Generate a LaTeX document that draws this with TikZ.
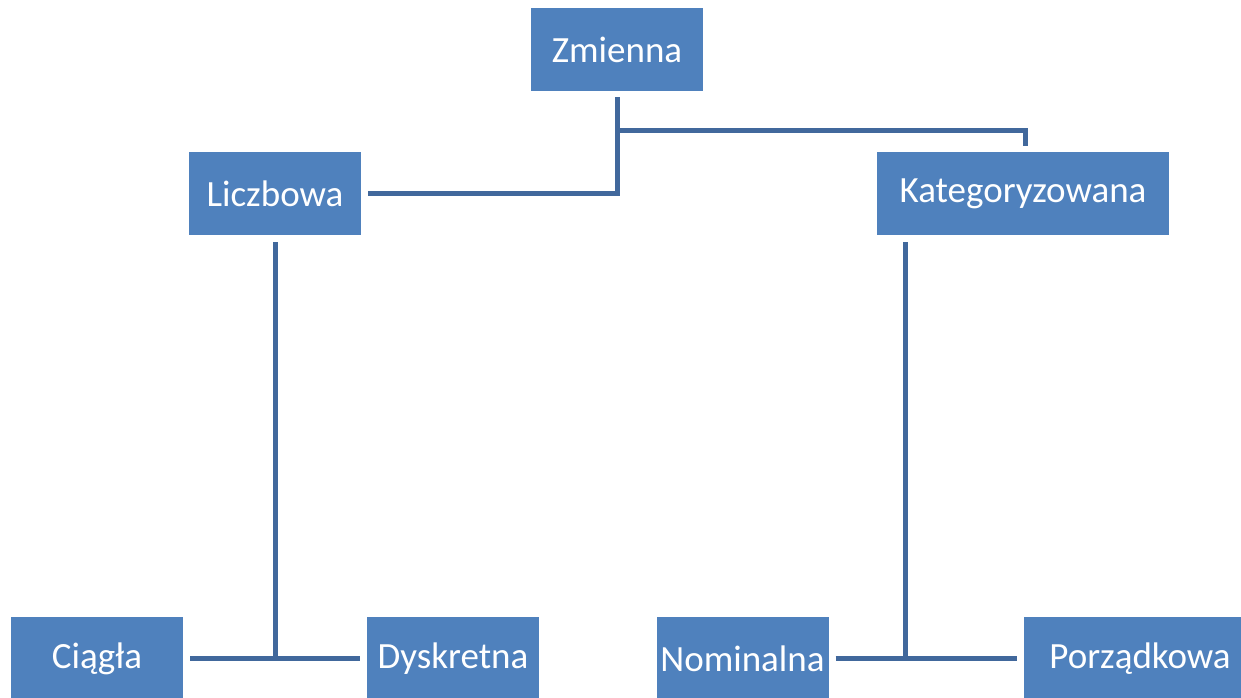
\documentclass[tikz,border=0pt]{standalone}
\usepackage{fontspec}
\setmainfont{Carlito}
\definecolor{boxblue}{HTML}{4F81BD}
\definecolor{linkblue}{HTML}{41689C}
\begin{document}
\begin{tikzpicture}[x=1pt,y=-1pt,
  box/.style={fill=boxblue,draw=none,text=white,inner sep=0pt,
    minimum width=172pt,minimum height=83pt,
    font=\fontsize{37}{44}\selectfont},
  link/.style={draw=linkblue,line width=5pt}]
\useasboundingbox (0,0) rectangle (1241,698);
\clip (0,0) rectangle (1241,698);

% boxes
\node[box] (zm) at (617,49.5) {Zmienna};
\node[box] (lb) at (275,193.5) {Liczbowa};
\node[box,minimum width=292pt] (kt) at (1023,193.5) {Kategoryzowana};
\node[box] (ci) at (97,658.5) {Ciągła};
\node[box] (dy) at (453,658.5) {Dyskretna};
\node[box] (no) at (742.5,658.5) {Nominalna};
\node[box,minimum width=232pt] (po) at (1140,658.5) {Porządkowa};

% connectors from the root (y axis points down, shifts are in page sense)
\draw[link] ([yshift=-6pt]zm.south) |- ([xshift=7pt]lb.east);
\draw[link] (zm.south |- 0,130) -| ([xshift=2pt,yshift=6pt]kt.north);

% Liczbowa branch
\coordinate (lbj) at (lb.south |- ci.east);
\draw[link] ([yshift=-7pt]lb.south) -- (lbj);
\draw[link] ([xshift=7pt]ci.east) -- ([xshift=-7pt]dy.west);

% Kategoryzowana branch
\coordinate (ktj) at (905,658.5);
\draw[link] ([yshift=-7pt]kt.south -| ktj) -- (ktj);
\draw[link] ([xshift=7pt]no.east) -- ([xshift=-7pt]po.west);
\end{tikzpicture}
\end{document}
